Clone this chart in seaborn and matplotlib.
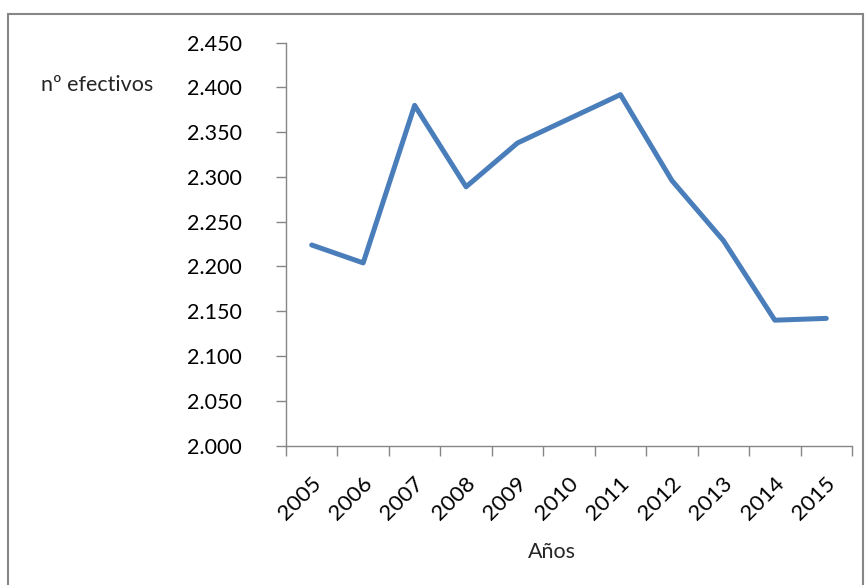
import numpy as np
import pandas as pd
import matplotlib
matplotlib.use("Agg")
import matplotlib.pyplot as plt
import matplotlib.transforms as mtransforms
from matplotlib.patches import Rectangle
from matplotlib.ticker import FuncFormatter, FixedLocator
import seaborn as sns

# data
years = ["2005", "2006", "2007", "2008", "2009", "2010",
         "2011", "2012", "2013", "2014", "2015"]
efectivos = [2224, 2204, 2380, 2289, 2338, 2365, 2392, 2296, 2229, 2140, 2142]
y_ticks = [2000, 2050, 2100, 2150, 2200, 2250, 2300, 2350, 2400, 2450]

df = pd.DataFrame({"Años": years, "efectivos": efectivos})

sns.set_theme(style="white")
plt.rcParams["font.family"] = ["Lato", "DejaVu Sans"]

W, H = 865, 585
fig = plt.figure(figsize=(W / 100, H / 100), dpi=100)
ax = fig.add_axes([286 / W, 1 - 445.5 / H, (852 - 286) / W, (445.5 - 42.7) / H])

grey = "#868686"

sns.lineplot(data=df, x="Años", y="efectivos", ax=ax, color="#4A7EBB",
             linewidth=3.6, sort=False)

ax.set_xlim(-0.5, len(years) - 0.5)
ax.set_ylim(y_ticks[0], y_ticks[-1])

# y axis
ax.set_yticks(y_ticks)
ax.yaxis.set_major_formatter(FuncFormatter(lambda v, p: f"{v:,.0f}".replace(",", ".")))
ax.tick_params(axis="y", which="major", length=7, width=1.0, color=grey,
               direction="out", pad=25, labelsize=15.5, labelcolor="black", left=True)

# x axis: labels at category centres, tick marks at boundaries
ax.set_xticks(range(len(years)))
ax.set_xticklabels(years)
ax.xaxis.set_minor_locator(FixedLocator(np.arange(-0.5, len(years), 1.0)))
ax.tick_params(axis="x", which="major", length=0, pad=25, labelsize=16, labelcolor="black")
ax.tick_params(axis="x", which="minor", length=7, width=1.0, color=grey,
               direction="out", bottom=True)
offset = mtransforms.ScaledTranslation(6 / 100, 0, fig.dpi_scale_trans)
for lbl in ax.get_xticklabels():
    lbl.set_rotation(45)
    lbl.set_ha("right")
    lbl.set_va("center")
    lbl.set_rotation_mode("anchor")
    lbl.set_transform(lbl.get_transform() + offset)

ax.set_xlabel("")
ax.set_ylabel("")
for side in ["top", "right"]:
    ax.spines[side].set_visible(False)
for side in ["left", "bottom"]:
    ax.spines[side].set_color(grey)
    ax.spines[side].set_linewidth(1.0)

fig.text(97 / W, 1 - 91 / H, "nº efectivos", ha="center", va="baseline", fontsize=15.5)
fig.text(552 / W, 1 - 558 / H, "Años", ha="center", va="baseline", fontsize=15.5)

# outer chart border
fig.patches.append(Rectangle((8 / W, -0.1), (863 - 8) / W, 0.1 + 1 - 14 / H,
                             transform=fig.transFigure, fill=False,
                             edgecolor=grey, linewidth=1.5))

fig.savefig("out.png", dpi=100)
